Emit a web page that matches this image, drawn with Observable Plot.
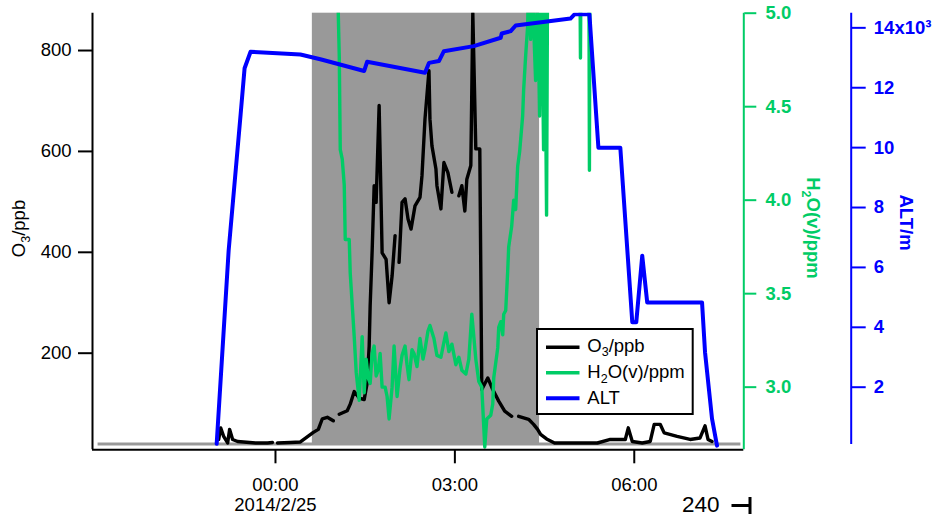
<!DOCTYPE html>
<html><head><meta charset="utf-8">
<script src="https://cdn.jsdelivr.net/npm/d3@7"></script>
<script src="https://cdn.jsdelivr.net/npm/@observablehq/plot@0.6"></script>
<style>body{margin:0;background:#fff;} svg{display:block;}</style>
</head><body><div id="chart"></div>
<script>
// ---- data: time in minutes relative to 2014-02-25 00:00 ----
const o3Minutes = [-57,-55,-52,-48,-46,-43,-38,-20,-8,-3,-1,2,15,25,38,43,47,52,58,60,64,72,75,79,84,89,92,94,95,97,99,101,104,107,111,114,117,120,122,124,127,130,133,136,140,145,147,150,154,155,157,161,162,166,169,173,177,180,184,187,190,192,196,198,201,205,207,213,218,224,230,237,240,244,254,259,263,266,272,280,303,323,336,351,354,358,368,376,380,386,390,403,416,426,431,434,438];
const o3Ppb =     [29,52,35,22,49,29,25,22,22,23,null,22,23,24,43,49,70,73,66,null,79,86,99,124,111,108,141,214,294,403,532,499,691,399,386,300,353,433,null,380,499,506,466,446,492,509,552,664,760,664,611,565,532,486,578,558,519,null,512,532,482,545,572,874,605,605,128,151,128,105,85,75,null,75,69,59,49,39,30,22,22,22,29,29,52,25,22,25,59,59,42,35,29,32,56,29,25];

const h2oMinutes = [-59,62,63,64,65,67,69,70,74,75,79,81,84,87,89,91,93,95,97,99,101,103,105,107,110,112,114,117,119,122,125,127,130,132,134,137,139,142,145,148,150,153,155,159,162,166,169,171,174,177,181,184,187,191,194,197,201,204,207,210,212,216,218,219,223,224,226,228,229,231,233,234,237,239,241,243,245,248,249,251,253,254,256,258,259,261,263,264,265,266,268,269,270,272,273,305.5,306,306.5,314.5,315,315.5,440];
const h2oPpm =     [5.6,5.3,5.0,4.77,4.27,4.22,4.08,3.79,3.79,3.61,3.27,3.08,2.93,3.27,2.97,3.15,3.05,3.02,3.18,3.22,3.06,3.09,3.18,3.00,3.00,2.95,2.83,3.00,3.22,2.95,3.10,3.17,3.22,3.12,3.04,3.20,3.18,3.11,3.26,3.15,3.20,3.30,3.33,3.26,3.17,3.16,3.24,3.29,3.19,3.23,3.12,3.16,3.09,3.07,3.15,3.39,3.15,3.03,3.00,2.68,2.83,2.85,2.91,3.05,3.21,3.32,3.35,3.28,3.39,3.41,3.62,3.75,3.86,4.00,3.95,4.18,4.26,4.45,4.59,4.77,4.93,5.2,4.86,5.2,4.94,4.64,5.2,4.79,4.45,5.2,4.74,4.27,5.2,3.92,5.2,5.2,4.76,5.2,5.2,4.16,5.2,5.3];

const altMinutes = [-59,-47,-35,-31,-25,25,45,89,92,150,154,164,169,199,226,227,236,241,296,300,315,324,346,358,362,368,373,428,431,438,443];
const altMeters  = [110,6560,11100,12650,13200,13110,12950,12560,12870,12500,12830,12890,13220,13390,13670,13810,13890,14080,14310,14450,14450,10000,10000,4170,4170,6390,4830,4830,3170,950,50];

const shadeMinutes = [37, 265];          // shaded (grey) period
const baselineMinutes = [-178, 467];     // grey reference line
const baselinePpb = 20;

const xTickMinutes = [0, 180, 360];
const xTickLabels = ["00:00\n2014/2/25", "03:00", "06:00"];
const o3Ticks = [200, 400, 600, 800];
const h2oTicks = [3.0, 3.5, 4.0, 4.5, 5.0];
const h2oTickLabels = ["3.0", "3.5", "4.0", "4.5", "5.0"];
const altTicks = [2000, 4000, 6000, 8000, 10000, 12000, 14000];
const altTickLabels = ["2", "4", "6", "8", "10", "12", "14x10\u00B3"];

// ---- helpers ----
const GREEN = "#00cc66", BLUE = "#0000ff";
const t0 = Date.UTC(2014, 1, 25);
const toDate = m => new Date(t0 + m * 60000);
const h2oToY = h => 874 - (5 - h) * 370.66;     // right (green) axis mapped onto O3 scale
const altToY = a => 13.85 + a * 0.059366;       // far-right (blue) axis mapped onto O3 scale

const o3 = o3Minutes.map((m, i) => ({t: toDate(m), v: o3Ppb[i]}));
const h2o = h2oMinutes.map((m, i) => ({t: toDate(m), v: h2oToY(h2oPpm[i])}));
const alt = altMinutes.map((m, i) => ({t: toDate(m), v: altToY(altMeters[i])}));
const xMin = toDate(-183.6), xMax = toDate(469.9);

const plot = Plot.plot({
  width: 936, height: 515,
  marginLeft: 92, marginRight: 192.7, marginTop: 12.7, marginBottom: 65.7,
  style: {fontFamily: "'Liberation Sans', Arial, sans-serif", fontSize: "18.5px", color: "#000", background: "#fff", overflow: "visible"},
  x: {type: "utc", domain: [xMin, xMax]},
  y: {domain: [8.5, 874]},
  marks: [
    Plot.rect([shadeMinutes], {x1: d => toDate(d[0]), x2: d => toDate(d[1]), y1: () => 19, y2: () => 874, fill: "#999999"}),
    Plot.ruleY([baselinePpb], {y: d => d, x1: () => toDate(baselineMinutes[0]), x2: () => toDate(baselineMinutes[1]), stroke: "#999999", strokeWidth: 3}),
    Plot.line(o3, {x: "t", y: "v", stroke: "#000", strokeWidth: 3.4, strokeLinejoin: "round", clip: true}),
    Plot.line(h2o, {x: "t", y: "v", stroke: GREEN, strokeWidth: 3.4, strokeLinejoin: "round", clip: true}),
    Plot.line(alt, {x: "t", y: "v", stroke: BLUE, strokeWidth: 4, strokeLinejoin: "round", clip: true}),
    // axis lines
    Plot.ruleY([8.5], {y: d => d, stroke: "#000", strokeWidth: 2}),
    Plot.ruleX([xMin], {x: d => d, stroke: "#000", strokeWidth: 2}),
    Plot.ruleX([xMax], {x: d => d, stroke: GREEN, strokeWidth: 2}),
    Plot.ruleX([xMax], {x: d => d, dx: 107.4, y1: () => 19, y2: () => 874, stroke: BLUE, strokeWidth: 2}),
    // axes
    Plot.axisX(xTickMinutes.map(toDate), {anchor: "bottom", tickSize: 14, tickPadding: 12.7, strokeWidth: 2,
      text: (d, i) => xTickLabels[i], lineHeight: 1.08, label: null}),
    Plot.axisY(o3Ticks, {anchor: "left", tickSize: 14, tickPadding: 7, strokeWidth: 2,
      text: (d, i) => String(o3Ticks[i]), label: null}),
    Plot.axisY(h2oTicks.map(h2oToY), {anchor: "right", tickSize: 12, tickPadding: 9.7, strokeWidth: 2,
      color: GREEN, fontWeight: "bold", text: (d, i) => h2oTickLabels[i], label: null}),
    Plot.axisY(altTicks.map(altToY), {anchor: "right", dx: 107.4, tickSize: 14, tickPadding: 8.6, strokeWidth: 2,
      color: BLUE, fontWeight: "bold", text: (d, i) => altTickLabels[i], label: null})
  ]
});
document.getElementById("chart").appendChild(plot);

// ---- titles, legend, annotation ----
const svg = d3.select(plot);
function addParts(t, parts) {
  let shifted = false;
  for (const [s, sub] of parts) {
    const ts = t.append("tspan").text(s);
    if (sub) { ts.attr("dy", 4.5).attr("font-size", 12.5); shifted = true; }
    else if (shifted) { ts.attr("dy", -4.5); shifted = false; }
  }
}
function richText(x, y, rot, parts, attrs) {
  const t = svg.append("text")
    .attr("transform", `translate(${x},${y}) rotate(${rot})`)
    .attr("text-anchor", "middle");
  for (const [k, v] of Object.entries(attrs || {})) t.attr(k, v);
  addParts(t, parts);
  return t;
}
richText(25, 228.5, -90, [["O"], ["3", 1], ["/ppb"]], {"font-size": 18.5, fill: "#000"});
richText(806.5, 228, 90, [["H"], ["2", 1], ["O(v)/ppm"]], {"font-size": 18.5, "font-weight": "bold", fill: GREEN});
richText(900, 222.5, 90, [["ALT/m"]], {"font-size": 18.5, "font-weight": "bold", fill: BLUE});

const lg = svg.append("g").attr("text-anchor", "start");
lg.append("rect").attr("x", 537).attr("y", 329).attr("width", 155.7).attr("height", 85)
  .attr("fill", "#fff").attr("stroke", "#000").attr("stroke-width", 2);
const legendItems = [
  {parts: [["O"], ["3", 1], ["/ppb"]], color: "#000", w: 3.4, y: 347.3, base: 351.5},
  {parts: [["H"], ["2", 1], ["O(v)/ppm"]], color: GREEN, w: 3.4, y: 372.7, base: 378},
  {parts: [["ALT"]], color: BLUE, w: 4, y: 398.3, base: 404}
];
for (const it of legendItems) {
  lg.append("line").attr("x1", 546).attr("x2", 579.5).attr("y1", it.y).attr("y2", it.y)
    .attr("stroke", it.color).attr("stroke-width", it.w);
  const t = lg.append("text").attr("x", 587.3).attr("y", it.base).attr("font-size", 18.5)
    .attr("fill", "#000").attr("text-anchor", "start");
  addParts(t, it.parts);
}

svg.append("text").attr("x", 682).attr("y", 511.5).attr("font-size", 22.5).attr("fill", "#000")
  .attr("text-anchor", "start").text("240");
svg.append("path").attr("d", "M731.5,505.5H750M750,497V514").attr("stroke", "#000").attr("stroke-width", 3).attr("fill", "none");
</script>
</body></html>
